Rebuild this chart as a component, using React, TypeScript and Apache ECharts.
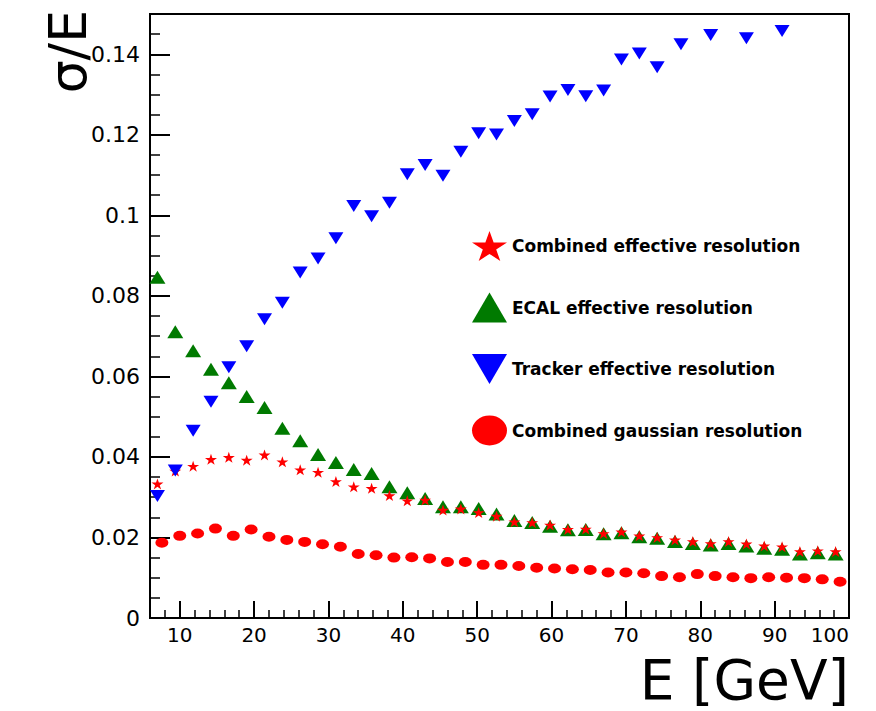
import React, { useEffect, useRef } from "react";
import * as echarts from "echarts";

// Energy points (GeV) for the effective-resolution series (ECAL and combined)
const E_EFF = [
  7.0, 9.4, 11.8, 14.2, 16.6, 19.0, 21.4, 23.8, 26.2, 28.6, 31.0, 33.4, 35.8,
  38.2, 40.6, 43.0, 45.4, 47.8, 50.2, 52.6, 55.0, 57.4, 59.8, 62.2, 64.6, 67.0,
  69.4, 71.8, 74.2, 76.6, 79.0, 81.4, 83.8, 86.2, 88.6, 91.0, 93.4, 95.8, 98.2,
];
const ECAL = [
  0.0846, 0.0711, 0.0664, 0.0618, 0.0584, 0.055, 0.0523, 0.0471, 0.044, 0.0406,
  0.0386, 0.0369, 0.0359, 0.0326, 0.0311, 0.0297, 0.0276, 0.0276, 0.0272,
  0.0258, 0.0242, 0.0237, 0.0228, 0.0219, 0.022, 0.0209, 0.0212, 0.0202,
  0.0198, 0.019, 0.0185, 0.0181, 0.0185, 0.0179, 0.0173, 0.0171, 0.0159,
  0.0162, 0.0159,
];
const COMBINED_EFF = [
  0.0333, 0.0365, 0.0377, 0.0394, 0.0399, 0.0392, 0.0405, 0.0388, 0.0368,
  0.0362, 0.0339, 0.0326, 0.0322, 0.0304, 0.0291, 0.0293, 0.0268, 0.0271,
  0.0262, 0.0253, 0.0239, 0.0237, 0.0231, 0.022, 0.0221, 0.021, 0.0214,
  0.0204, 0.02, 0.0194, 0.019, 0.0185, 0.019, 0.0184, 0.0179, 0.0177, 0.0165,
  0.0167, 0.0165,
];
// Tracker points (points above 0.15 are outside the frame)
const E_TRK = [
  7.0, 9.4, 11.8, 14.2, 16.6, 19.0, 21.4, 23.8, 26.2, 28.6, 31.0, 33.4, 35.8,
  38.2, 40.6, 43.0, 45.4, 47.8, 50.2, 52.6, 55.0, 57.4, 59.8, 62.2, 64.6, 67.0,
  69.4, 71.8, 74.2, 77.4, 81.4, 86.2, 91.0,
];
const TRACKER = [
  0.0303, 0.0366, 0.0465, 0.0537, 0.0623, 0.0675, 0.0742, 0.0783, 0.0858,
  0.0893, 0.0943, 0.1023, 0.0998, 0.1031, 0.1102, 0.1125, 0.1098, 0.1158,
  0.1204, 0.1201, 0.1234, 0.1251, 0.1295, 0.1311, 0.1296, 0.131, 0.1387,
  0.1402, 0.1368, 0.1425, 0.1448, 0.144, 0.1458,
];
// Gaussian-fit combined resolution
const E_GAUS = [
  7.6, 10.0, 12.4, 14.8, 17.2, 19.6, 22.0, 24.4, 26.8, 29.2, 31.6, 34.0, 36.4,
  38.8, 41.2, 43.6, 46.0, 48.4, 50.8, 53.2, 55.6, 58.0, 60.4, 62.8, 65.2, 67.6,
  70.0, 72.4, 74.8, 77.2, 79.6, 82.0, 84.4, 86.8, 89.2, 91.6, 94.0, 96.4, 98.8,
];
const GAUS = [
  0.0187, 0.0204, 0.021, 0.0222, 0.0204, 0.022, 0.0202, 0.0194, 0.0189, 0.0183,
  0.0177, 0.0159, 0.0156, 0.015, 0.0151, 0.0148, 0.0139, 0.0139, 0.0132,
  0.0132, 0.0129, 0.0125, 0.0123, 0.0121, 0.0119, 0.0113, 0.0113, 0.0111,
  0.0104, 0.0101, 0.0109, 0.0104, 0.0101, 0.0099, 0.0101, 0.01, 0.0099,
  0.0096, 0.009,
];

const X_TICKS = [10, 20, 30, 40, 50, 60, 70, 80, 90, 100];
const X_MINOR = [
  8, 12, 14, 16, 18, 22, 24, 26, 28, 32, 34, 36, 38, 42, 44, 46, 48, 52, 54, 56,
  58, 62, 64, 66, 68, 72, 74, 76, 78, 82, 84, 86, 88, 92, 94, 96, 98,
];
const Y_TICKS = [0, 0.02, 0.04, 0.06, 0.08, 0.1, 0.12, 0.14];
const Y_MINOR = [
  0.005, 0.01, 0.015, 0.025, 0.03, 0.035, 0.045, 0.05, 0.055, 0.065, 0.07,
  0.075, 0.085, 0.09, 0.095, 0.105, 0.11, 0.115, 0.125, 0.13, 0.135, 0.145,
];

const NAMES = [
  "Combined effective resolution",
  "ECAL effective resolution",
  "Tracker effective resolution",
  "Combined gaussian resolution",
];

const STAR =
  "path://M50,0L61.23,34.55L97.55,34.55L68.17,55.9L79.39,90.45L50,69.1L20.61,90.45L31.83,55.9L2.45,34.55L38.77,34.55Z";
const ELLIPSE = "path://M0,50A50,50 0 1,1 100,50A50,50 0 1,1 0,50Z";
const UP_TRI = "path://M50,0L100,100L0,100Z";
const DOWN_TRI = "path://M0,0L100,0L50,100Z";

const FONT = "DejaVu Sans";

function pairs(xs: number[], ys: number[]) {
  return ys.map((y, i) => [xs[i], y]);
}

export default function App() {
  const ref = useRef<HTMLDivElement>(null);
  useEffect(() => {
    if (!ref.current) return;
    const chart = echarts.init(ref.current, undefined, { renderer: "svg" });
    const X_MIN = 6;
    const X_MAX = 100;
    const Y_MIN = 0;
    const Y_MAX = 0.15;
    chart.setOption({
      animation: false,
      backgroundColor: "#fff",
      textStyle: { fontFamily: FONT },
      grid: {
        left: 150,
        top: 14,
        width: 699,
        height: 604,
        outerBoundsMode: "none",
        containLabel: false,
        show: true,
        borderColor: "#000",
        borderWidth: 2,
        backgroundColor: "transparent",
      },
      legend: {
        orient: "vertical",
        left: 472,
        top: 231,
        padding: 0,
        itemWidth: 35,
        itemHeight: 30,
        itemGap: 31.5,
        symbolKeepAspect: false,
        data: [
          { name: NAMES[0], icon: STAR },
          { name: NAMES[1], icon: UP_TRI },
          { name: NAMES[2], icon: DOWN_TRI },
          { name: NAMES[3], icon: ELLIPSE },
        ],
        textStyle: {
          fontFamily: FONT,
          fontWeight: "bold",
          fontSize: 17,
          color: "#000",
        },
      },
      graphic: [
        {
          type: "text",
          x: 68,
          y: 10,
          rotation: Math.PI / 2,
          style: {
            text: "σ/E",
            fontFamily: FONT,
            fontSize: 52,
            fill: "#000",
            align: "right",
            verticalAlign: "middle",
          },
        },
      ],
      xAxis: [
        {
          type: "value",
          min: X_MIN,
          max: X_MAX,
          position: "bottom",
          name: "E [GeV]",
          nameLocation: "end",
          nameGap: 0,
          nameTextStyle: {
            fontFamily: FONT,
            fontSize: 55,
            color: "#000",
            align: "right",
            verticalAlign: "top",
            padding: [34, 0, 0, 0],
          },
          axisLine: { show: true, lineStyle: { color: "#000", width: 2 } },
          axisTick: {
            show: true,
            inside: true,
            length: 17,
            customValues: X_TICKS,
            lineStyle: { color: "#000", width: 2 },
          },
          axisLabel: {
            customValues: X_TICKS,
            margin: 7,
            fontFamily: FONT,
            fontSize: 20,
            color: "#000",
            alignMaxLabel: "right",
          },
          splitLine: { show: false },
        },
        {
          type: "value",
          min: X_MIN,
          max: X_MAX,
          position: "bottom",
          axisLine: { show: false },
          axisTick: {
            show: true,
            inside: true,
            length: 8,
            customValues: X_MINOR,
            lineStyle: { color: "#000", width: 1.5 },
          },
          axisLabel: { show: false },
          splitLine: { show: false },
        },
      ],
      yAxis: [
        {
          type: "value",
          min: Y_MIN,
          max: Y_MAX,
          position: "left",
          axisLine: { show: true, lineStyle: { color: "#000", width: 2 } },
          axisTick: {
            show: true,
            inside: true,
            length: 20,
            customValues: Y_TICKS,
            lineStyle: { color: "#000", width: 2 },
          },
          axisLabel: {
            customValues: Y_TICKS,
            margin: 10,
            fontFamily: FONT,
            fontSize: 22,
            color: "#000",
            formatter: (v: number) => String(Math.round(v * 1000) / 1000),
          },
          splitLine: { show: false },
        },
        {
          type: "value",
          min: Y_MIN,
          max: Y_MAX,
          position: "left",
          axisLine: { show: false },
          axisTick: {
            show: true,
            inside: true,
            length: 10,
            customValues: Y_MINOR,
            lineStyle: { color: "#000", width: 1.5 },
          },
          axisLabel: { show: false },
          splitLine: { show: false },
        },
      ],
      series: [
        {
          name: NAMES[1],
          type: "scatter",
          data: pairs(E_EFF, ECAL),
          symbol: UP_TRI,
          symbolSize: [16, 13],
          itemStyle: { color: "#007a00", opacity: 1 },
        },
        {
          name: NAMES[0],
          type: "scatter",
          data: pairs(E_EFF, COMBINED_EFF),
          symbol: STAR,
          symbolSize: [12, 11],
          itemStyle: { color: "#ff0000", opacity: 1 },
        },
        {
          name: NAMES[2],
          type: "scatter",
          data: pairs(E_TRK, TRACKER),
          symbol: DOWN_TRI,
          symbolSize: [15, 12],
          itemStyle: { color: "#0000ff", opacity: 1 },
        },
        {
          name: NAMES[3],
          type: "scatter",
          data: pairs(E_GAUS, GAUS),
          symbol: ELLIPSE,
          symbolSize: [13, 10],
          itemStyle: { color: "#ff0000", opacity: 1 },
        },
      ],
    });
    return () => chart.dispose();
  }, []);
  return (
    <div
      ref={ref}
      style={{ position: "absolute", left: 0, top: 0, width: 876, height: 711 }}
    />
  );
}
